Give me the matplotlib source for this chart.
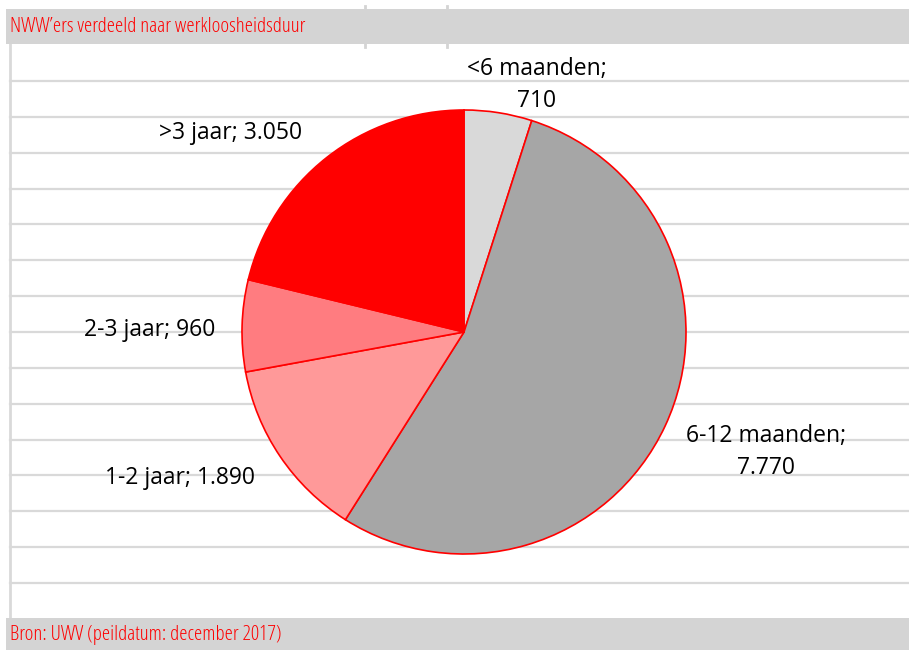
import matplotlib.pyplot as plt
from matplotlib.patches import Rectangle

# data
categories = ["<6 maanden", "6-12 maanden", "1-2 jaar", "2-3 jaar", ">3 jaar"]
values = [710, 7770, 1890, 960, 3050]
value_labels = ["710", "7.770", "1.890", "960", "3.050"]
colors = ["#D9D9D9", "#A6A6A6", "#FF9999", "#FF7C80", "#FF0000"]

title = "NWW\u2019ers verdeeld naar werkloosheidsduur"
source = "Bron: UWV (peildatum: december 2017)"

W, H = 909, 650
fig = plt.figure(figsize=(W / 100, H / 100), dpi=100)
ax = fig.add_axes([0, 0, 1, 1])


def py(y):
    # pixel row (from top) -> data y
    return H - y


# spreadsheet cell lines behind the chart
grid_color = "#D9D9D9"
for i in range(15):
    y = py(81 + i * 35.85)
    ax.plot([10, W], [y, y], color=grid_color, linewidth=1.6, zorder=0)
ax.plot([10, 10], [py(44), py(618)], color=grid_color, linewidth=2, zorder=0)

# title and footer bars
ax.add_patch(Rectangle((6, py(44)), W - 6, 35, facecolor="#D4D4D4",
                       edgecolor="none", zorder=1))
ax.add_patch(Rectangle((6, 0), W - 6, py(618), facecolor="#D4D4D4",
                       edgecolor="none", zorder=1))
for x in (365, 447):
    ax.plot([x, x], [py(6), py(47)], color="#D4D4D4", linewidth=2, zorder=0)

cond = dict(family=["Open Sans", "DejaVu Sans"], fontstretch="condensed")
ax.text(10, py(27), title, color="#FF0000", fontsize=15, va="center",
        ha="left", zorder=2, **cond)
ax.text(10, py(635), source, color="#FF0000", fontsize=15, va="center",
        ha="left", zorder=2, **cond)

# pie
ax.pie(values, colors=colors, startangle=90, counterclock=False,
       center=(464, py(332)), radius=222, frame=True,
       wedgeprops=dict(edgecolor="#FF0000", linewidth=1.2, zorder=3))

# data labels
label_pos = [(537, 85), (766, 452), (180, 478), (150, 330), (231, 133)]
two_line = [True, True, False, False, False]
for cat, lab, (x, y), tl in zip(categories, value_labels, label_pos, two_line):
    txt = f"{cat};\n{lab}" if tl else f"{cat}; {lab}"
    ax.text(x, py(y), txt, ha="center", va="center", fontsize=16.5,
            family=["Open Sans", "DejaVu Sans"], linespacing=1.42, zorder=4)

ax.set_xlim(0, W)
ax.set_ylim(0, H)
ax.set_aspect("equal")
ax.axis("off")

fig.savefig("out.png", dpi=100, facecolor="white")
